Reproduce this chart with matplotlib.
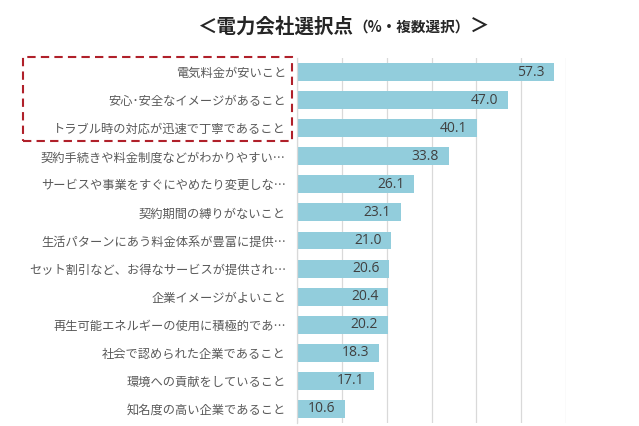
import matplotlib
matplotlib.use("Agg")
import matplotlib.pyplot as plt
from matplotlib.patches import Rectangle

categories = [
    "電気料金が安いこと",
    "安心･安全なイメージがあること",
    "トラブル時の対応が迅速で丁寧であること",
    "契約手続きや料金制度などがわかりやすい…",
    "サービスや事業をすぐにやめたり変更しな…",
    "契約期間の縛りがないこと",
    "生活パターンにあう料金体系が豊富に提供…",
    "セット割引など、お得なサービスが提供され…",
    "企業イメージがよいこと",
    "再生可能エネルギーの使用に積極的であ…",
    "社会で認められた企業であること",
    "環境への貢献をしていること",
    "知名度の高い企業であること",
]
values = [57.3, 47.0, 40.1, 33.8, 26.1, 23.1, 21.0, 20.6, 20.4, 20.2, 18.3, 17.1, 10.6]
xticks = [0, 10, 20, 30, 40, 50, 60]

JP = ["Noto Sans CJK JP", "DejaVu Sans"]
plt.rcParams["font.family"] = JP

W, H = 639, 426
fig = plt.figure(figsize=(W / 100, H / 100), dpi=100)
ax = fig.add_axes([297 / W, 1 - 423 / H, (566 - 297) / W, (423 - 58) / H])

y = list(range(len(categories)))
ax.barh(y, values, height=0.64, color="#92CDDC", zorder=2)
ax.set_ylim(len(categories) - 0.5, -0.5)
ax.set_xlim(0, 60)
ax.set_xticks(xticks)
ax.set_xticklabels([])
ax.xaxis.grid(True, color="#D9D9D9", lw=0.9, zorder=0)
ax.set_yticks(y)
ax.set_yticklabels(categories, fontsize=8.8, color="#595959")
ax.tick_params(axis="both", length=0)
ax.tick_params(axis="y", pad=8)
for s in ["top", "right", "bottom"]:
    ax.spines[s].set_visible(False)
ax.spines["left"].set_color("#D9D9D9")
ax.spines["left"].set_linewidth(0.9)

for yi, v in zip(y, values):
    ax.annotate(f"{v:.1f}", xy=(v, yi), xytext=(-7, 0), textcoords="offset points",
                ha="right", va="center", fontsize=10, color="#404040",
                family=["Open Sans", "DejaVu Sans"], zorder=3)

# dashed highlight box
rect = Rectangle((23 / W, 1 - 141 / H), (292 - 23) / W, (141 - 57) / H,
                 transform=fig.transFigure, fill=False, edgecolor="#B0202A",
                 linestyle=(0, (4, 2.5)), lw=1.5)
fig.patches.append(rect)

# title built from pieces
fig.canvas.draw()
r = fig.canvas.get_renderer()
ty = 1 - 27 / H
t1 = fig.text(197 / W, ty, "＜電力会社選択点", fontsize=14, fontweight="bold",
              color="#262626", va="center", ha="left")
bb = t1.get_window_extent(r)
t2 = fig.text(bb.x1 / W, ty, "（%・複数選択）", fontsize=10.5, fontweight="bold",
              color="#262626", va="center", ha="left")
bb2 = t2.get_window_extent(r)
t3 = fig.text(bb2.x1 / W, ty, "＞", fontsize=14, fontweight="bold",
              color="#262626", va="center", ha="left")

fig.savefig("out.png", dpi=100)
